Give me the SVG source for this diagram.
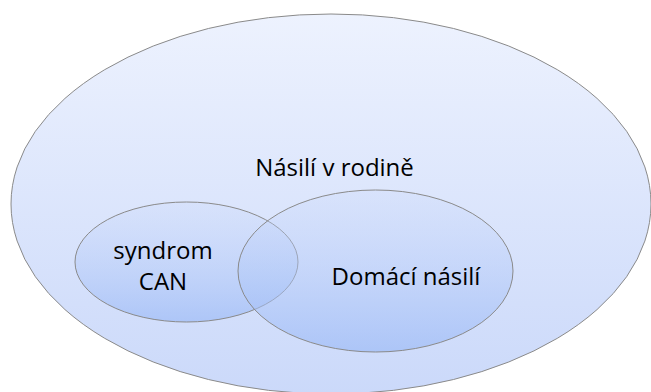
<svg xmlns="http://www.w3.org/2000/svg" width="651" height="392" viewBox="0 0 651 392">
  <defs>
    <linearGradient id="gBig" x1="0" y1="0" x2="0" y2="1">
      <stop offset="0" stop-color="#edf2fe"/>
      <stop offset="1" stop-color="#cbd9fa"/>
    </linearGradient>
    <linearGradient id="gSmall" x1="0" y1="0" x2="0" y2="1">
      <stop offset="0" stop-color="#c9d8fa" stop-opacity="0.25"/>
      <stop offset="1" stop-color="#9ab9f6" stop-opacity="0.65"/>
    </linearGradient>
  </defs>
  <style>
    .shape { stroke: #8a8a8a; stroke-width: 1; }
    .big { fill: url(#gBig); }
    .small { fill: url(#gSmall); }
    .lbl { font-family: "Open Sans", "Liberation Sans", sans-serif; font-size: 24px; fill: #000; text-anchor: middle; }
  </style>
  <g id="nasili-v-rodine">
    <ellipse class="shape big" cx="331" cy="204" rx="320" ry="190"/>
    <text class="lbl" x="334.5" y="175.5">Násilí v rodině</text>
  </g>
  <g id="syndrom-can">
    <ellipse class="shape small" cx="186.5" cy="262" rx="111.5" ry="60"/>
  </g>
  <g id="domaci-nasili">
    <ellipse class="shape small" cx="375.5" cy="271" rx="137.5" ry="81"/>
  </g>
  <g id="labels">
    <text class="lbl" x="163" y="258.5">syndrom</text>
    <text class="lbl" x="163" y="289.5">CAN</text>
    <text class="lbl" x="406" y="285">Domácí násilí</text>
  </g>
  <g id="connectors"/>
</svg>
